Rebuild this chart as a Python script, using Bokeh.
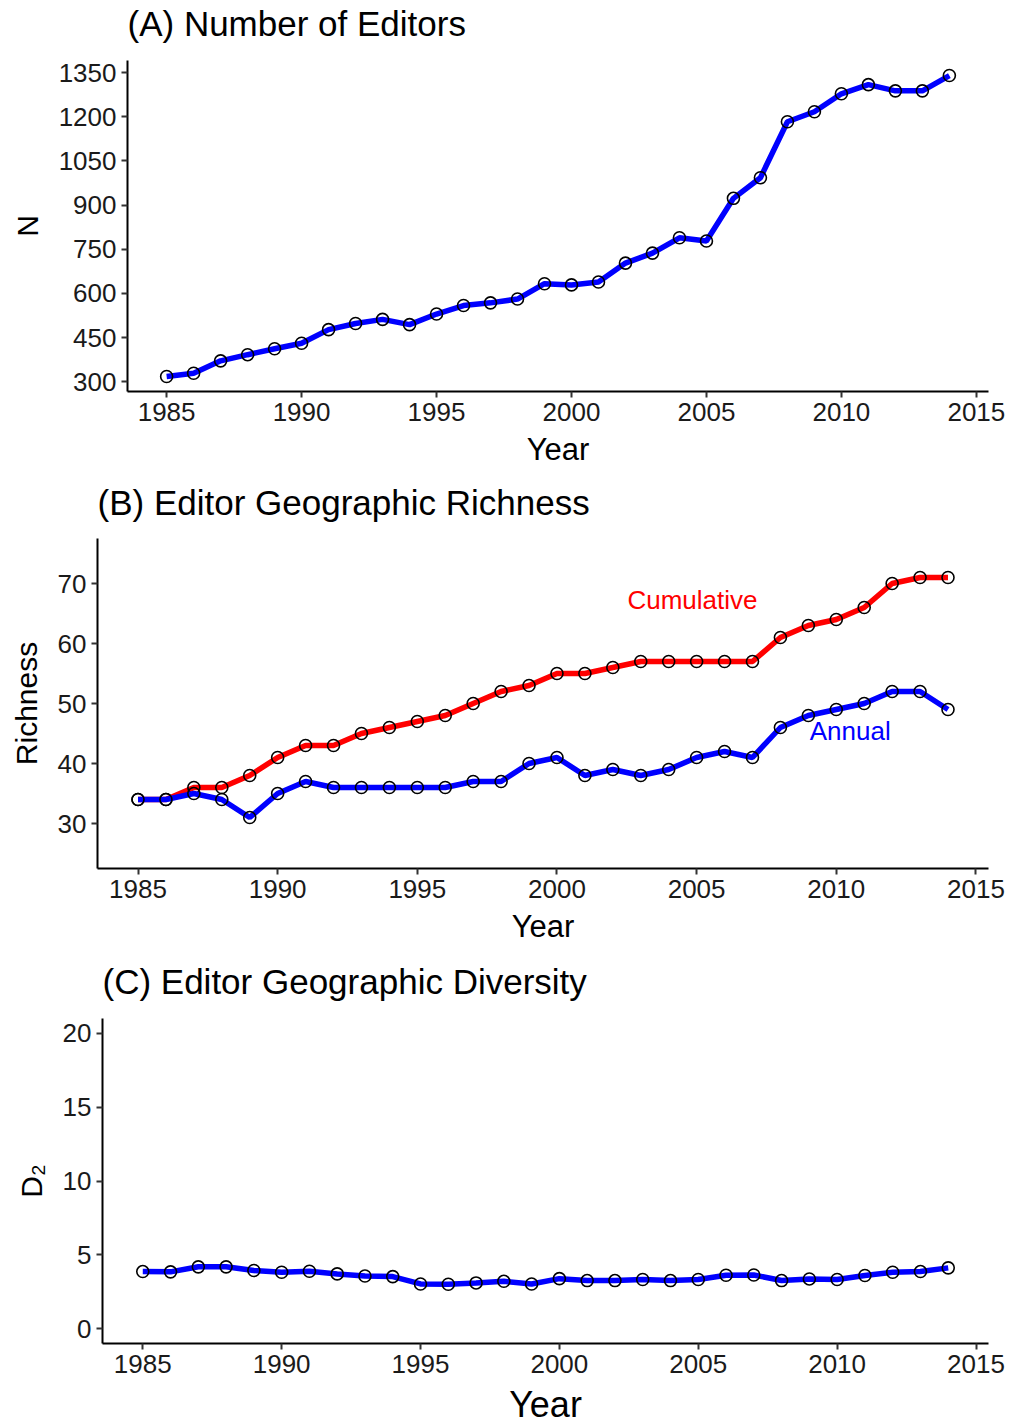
from bokeh.plotting import figure
from bokeh.models import Range1d, FixedTicker
from bokeh.embed import file_html
from bokeh.resources import INLINE

# ---------------- data ----------------
years = list(range(1985, 2015))

editors_n = [318, 329, 371, 392, 412, 431, 477, 498, 512, 494,
             530, 559, 568, 581, 633, 629, 639, 703, 737, 789,
             778, 923, 993, 1183, 1217, 1278, 1309, 1288, 1288, 1340]

richness_cumulative = [34, 34, 36, 36, 38, 41, 43, 43, 45, 46,
                       47, 48, 50, 52, 53, 55, 55, 56, 57, 57,
                       57, 57, 57, 61, 63, 64, 66, 70, 71, 71]

richness_annual = [34, 34, 35, 34, 31, 35, 37, 36, 36, 36,
                   36, 36, 37, 37, 40, 41, 38, 39, 38, 39,
                   41, 42, 41, 46, 48, 49, 50, 52, 52, 49]

diversity_d2 = [3.87, 3.85, 4.19, 4.19, 3.94, 3.82, 3.89, 3.71, 3.57, 3.53,
                3.03, 3.01, 3.10, 3.21, 3.03, 3.39, 3.26, 3.26, 3.33, 3.26,
                3.33, 3.62, 3.64, 3.26, 3.37, 3.33, 3.60, 3.82, 3.87, 4.12]

x_ticks = [1985, 1990, 1995, 2000, 2005, 2010, 2015]
a_ticks = [300, 450, 600, 750, 900, 1050, 1200, 1350]
b_ticks = [30, 40, 50, 60, 70]
c_ticks = [0, 5, 10, 15, 20]

titles = ["(A) Number of Editors", "(B) Editor Geographic Richness",
          "(C) Editor Geographic Diversity"]

FONT = "Liberation Sans"
BLUE = "#0000FF"
RED = "#FF0000"


def make_fig(fw, fh, left, right, top, bottom, yr, yticks, ylabel, title,
             title_standoff, shift, xlabel_size="31px", tick_size="26px",
             xlabel_standoff=8):
    p = figure(frame_width=fw, frame_height=fh,
               min_border_left=left, min_border_right=right,
               min_border_top=top, min_border_bottom=bottom,
               x_range=Range1d(1983.55, 2015.45), y_range=yr,
               output_backend="svg", toolbar_location=None)
    p.styles = {"margin-top": f"{shift}px"}
    p.border_fill_color = None
    p.background_fill_color = None
    p.outline_line_color = None
    p.xgrid.visible = False
    p.ygrid.visible = False
    p.xaxis.ticker = FixedTicker(ticks=x_ticks)
    p.yaxis.ticker = FixedTicker(ticks=yticks)
    p.xaxis.minor_tick_line_color = None
    p.yaxis.minor_tick_line_color = None
    for ax in (p.xaxis, p.yaxis):
        ax.axis_line_width = 2
        ax.axis_line_color = "black"
        ax.major_tick_line_color = "#333333"
        ax.major_tick_line_width = 2
        ax.major_tick_in = 0
        ax.major_tick_out = 6
        ax.major_label_text_font = FONT
        ax.major_label_text_font_size = tick_size
        ax.major_label_text_color = "#1a1a1a"
        ax.axis_label_text_font = FONT
        ax.axis_label_text_font_style = "normal"
        ax.axis_label_text_color = "black"
    p.xaxis.major_label_standoff = 5
    p.yaxis.major_label_standoff = 5
    p.xaxis.axis_label = "Year"
    p.xaxis.axis_label_text_font_size = xlabel_size
    p.xaxis.axis_label_standoff = xlabel_standoff
    p.yaxis.axis_label = ylabel
    p.yaxis.axis_label_text_font_size = "30px"
    p.yaxis.axis_label_standoff = 12
    p.title.text = title
    p.title.align = "left"
    p.title.vertical_align = "top"
    p.title.text_font = FONT
    p.title.text_font_size = "35px"
    p.title.text_font_style = "normal"
    p.title.text_color = "black"
    p.title.standoff = title_standoff
    p.title.offset = 0
    return p


def series(p, ys, color):
    p.line(years, ys, line_color=color, line_width=5.5)
    p.scatter(years, ys, size=12, marker="circle", fill_alpha=0,
              line_color="black", line_width=1.6)


# Panel A : frame top at 60, figure top at -14
pa = make_fig(861, 331, 127, 25, 74, 90, Range1d(267, 1391), a_ticks, "N",
              titles[0], 32, -14)
series(pa, editors_n, BLUE)

# Panel B : frame top at 538, figure top at 466 (A ends at 481)
pb = make_fig(891, 330, 97, 25, 72, 90, Range1d(22.5, 77.5), b_ticks, "Richness",
              titles[1], 30, -15)
series(pb, richness_cumulative, RED)
series(pb, richness_annual, BLUE)
pb.text(x=[2004.85], y=[67.2], text=["Cumulative"], text_color=RED,
        text_font_size="26px", text_align="center", text_baseline="middle",
        text_font={"value": FONT})
pb.text(x=[2010.5], y=[45.5], text=["Annual"], text_color=BLUE,
        text_font_size="26px", text_align="center", text_baseline="middle",
        text_font={"value": FONT})

# Panel C : frame top at 1018, figure top at 944 (B ends at 958)
pc = make_fig(886, 325, 102, 25, 74, 71, Range1d(-1, 21), c_ticks, "D\u2082",
              titles[2], 32, -14, xlabel_size="36px", xlabel_standoff=8)
series(pc, diversity_d2, BLUE)

open("out.html", "w").write(file_html([pa, pb, pc], INLINE))
